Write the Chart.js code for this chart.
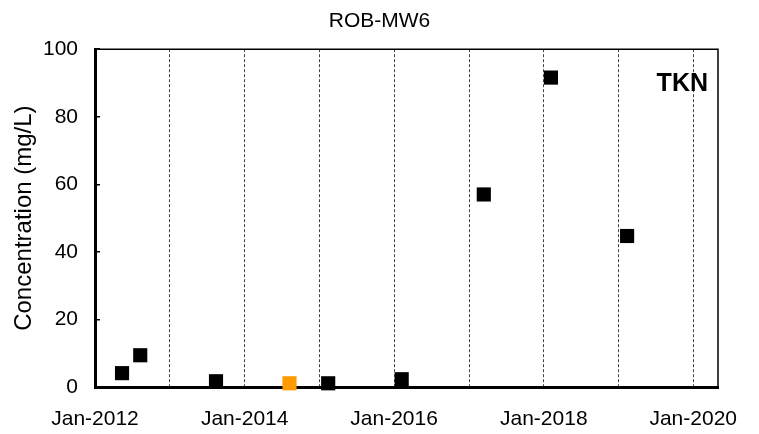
<!DOCTYPE html>
<html lang="en">
<head>
    <meta charset="UTF-8">
    <title>ROB-MW6 TKN</title>
    <script src="https://cdn.jsdelivr.net/npm/chart.js"></script>
    <style>
        body {
            margin: 0;
            padding: 0;
            background: #fff;
        }
        #wrap {
            width: 759px;
            height: 434px;
        }
    </style>
</head>
<body>
    <div id="wrap">
        <canvas id="myChart" width="759" height="434"></canvas>
    </div>

    <script>
        // sample dates and TKN values (mg/L)
        const sampleDates = ['2012-05-12', '2012-08-09', '2013-08-14', '2015-02-13', '2016-02-07',
                             '2017-03-14', '2018-02-05', '2019-02-12'];
        const sampleValues = [4.1, 9.4, 1.7, 1.1, 2.3, 57.0, 91.6, 44.7];

        // the one orange (flagged) sample
        const flaggedDates = ['2014-08-08'];
        const flaggedValues = [1.1];

        const gridYears = [2012, 2013, 2014, 2015, 2016, 2017, 2018, 2019, 2020];
        const labelYears = [2012, 2014, 2016, 2018, 2020];
        const axisStart = '2012-01-01';
        const axisEnd = '2020-05-01';

        const fontFamily = '"Liberation Sans", Arial, Helvetica, sans-serif';

        const toPoints = (dates, values) => dates.map((d, i) => ({x: Date.parse(d), y: values[i]}));
        const jan1 = y => Date.UTC(y, 0, 1);

        // thin frame on top/right and the "TKN" label
        const framePlugin = {
            id: 'frame',
            afterDraw(chart) {
                const {ctx, chartArea: a} = chart;
                ctx.save();
                ctx.strokeStyle = '#000';
                ctx.lineWidth = 1.5;
                ctx.beginPath();
                ctx.moveTo(a.left, a.top);
                ctx.lineTo(a.right, a.top);
                ctx.lineTo(a.right, a.bottom);
                ctx.stroke();

                ctx.fillStyle = '#000';
                ctx.font = 'bold 25px ' + fontFamily;
                ctx.textAlign = 'right';
                ctx.textBaseline = 'alphabetic';
                ctx.fillText('TKN', a.right - 10, a.top + 42);
                ctx.restore();
            }
        };

        const ctx = document.getElementById('myChart').getContext('2d');

        new Chart(ctx, {
            type: 'scatter',
            data: {
                datasets: [{
                    label: 'TKN',
                    data: toPoints(sampleDates, sampleValues),
                    pointStyle: 'rect',
                    pointRadius: 10,
                    pointBorderWidth: 0,
                    backgroundColor: '#000',
                    borderColor: '#000',
                    clip: false
                },
                {
                    label: 'TKN (flagged)',
                    data: toPoints(flaggedDates, flaggedValues),
                    pointStyle: 'rect',
                    pointRadius: 10,
                    pointBorderWidth: 0,
                    backgroundColor: '#FF9A00',
                    borderColor: '#FF9A00',
                    clip: false
                }]
            },
            options: {
                responsive: false,
                animation: false,
                layout: {
                    padding: 0
                },
                scales: {
                    x: {
                        type: 'linear',
                        min: Date.parse(axisStart),
                        max: Date.parse(axisEnd),
                        afterBuildTicks: scale => {
                            scale.ticks = gridYears.map(y => ({value: jan1(y)}));
                        },
                        afterFit: scale => { scale.height = 47; },
                        grid: {
                            drawTicks: false,
                            lineWidth: 1,
                            color: c => (c.tick && c.tick.value === jan1(gridYears[0])) ? 'rgba(0,0,0,0)' : '#444'
                        },
                        border: {
                            display: true,
                            color: '#000',
                            width: 3,
                            dash: [3, 2]
                        },
                        ticks: {
                            padding: 20,
                            maxRotation: 0,
                            autoSkip: false,
                            color: '#000',
                            font: {family: fontFamily, size: 21},
                            callback: value => {
                                const y = new Date(value).getUTCFullYear();
                                return labelYears.includes(y) ? 'Jan-' + y : '';
                            }
                        }
                    },
                    y: {
                        min: 0,
                        max: 100,
                        afterFit: scale => { scale.width = 95; },
                        grid: {
                            drawOnChartArea: false,
                            drawTicks: true,
                            tickLength: -5,
                            lineWidth: 1.5,
                            color: '#000'
                        },
                        border: {
                            display: true,
                            color: '#000',
                            width: 3
                        },
                        ticks: {
                            stepSize: 20,
                            padding: 22,
                            color: '#000',
                            font: {family: fontFamily, size: 21}
                        },
                        title: {
                            display: true,
                            text: 'Concentration (mg/L)',
                            color: '#000',
                            font: {family: fontFamily, size: 24},
                            padding: {top: 10, bottom: 0}
                        }
                    },
                    // empty right-hand box, only reserves the margin on the right
                    yRight: {
                        position: 'right',
                        min: 0,
                        max: 100,
                        afterFit: scale => { scale.width = 41; },
                        grid: {display: false, drawOnChartArea: false},
                        border: {display: false},
                        ticks: {display: false}
                    }
                },
                plugins: {
                    legend: {display: false},
                    tooltip: {enabled: false},
                    title: {
                        display: true,
                        text: 'ROB-MW6',
                        color: '#000',
                        font: {family: fontFamily, size: 21, weight: 'normal'},
                        padding: {top: 9, bottom: 15}
                    }
                }
            },
            plugins: [framePlugin]
        });
    </script>
</body>
</html>
